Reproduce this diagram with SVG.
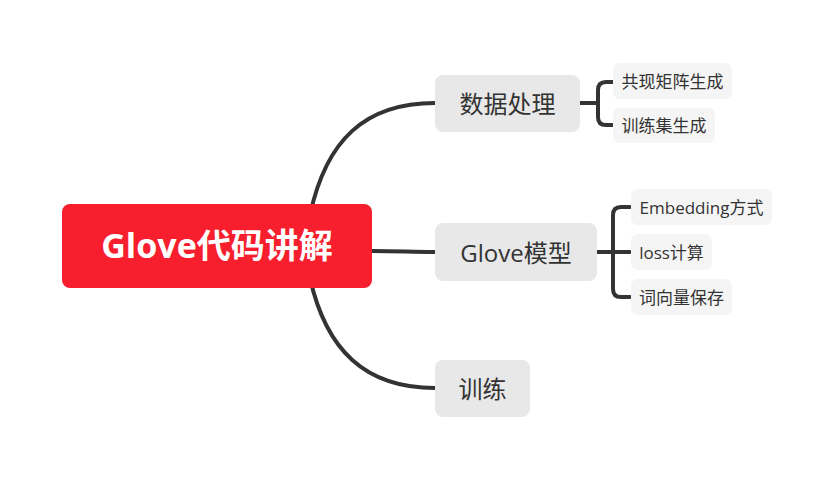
<svg xmlns="http://www.w3.org/2000/svg" width="835" height="480" viewBox="0 0 835 480">
<style>
.c{fill:none;stroke:#333;stroke-width:4;stroke-linecap:round}
.t{font-family:"Open Sans","Noto Sans CJK SC",sans-serif;text-anchor:middle;dominant-baseline:central}
.n rect{fill:#e8e8e8}
.n text{fill:#333;font-size:24px}
.l rect{fill:#f5f5f5}
.l text{fill:#333;font-size:17px}
</style>
<rect width="835" height="480" fill="#fff"/>
<g id="connectors">
<path class="c" d="M310,215 C326,140 365,103 435,103"/>
<path class="c" d="M372,251 C400,251 410,252 435,252"/>
<path class="c" d="M310,278 C326,350 365,388 435,388"/>
<path class="c" d="M580,103 H598"/>
<path class="c" d="M613,82 H606 Q598,82 598,90 V117 Q598,125 606,125 H613"/>
<path class="c" d="M597,252 H630"/>
<path class="c" d="M630,207 H621 Q613,207 613,215 V289 Q613,297 621,297 H630"/>
</g>
<g id="root">
<rect x="62" y="204" width="310" height="84" rx="8" fill="#f71f2e"/>
<text class="t" x="217" y="245" font-size="34" font-weight="bold" fill="#fff">Glove代码讲解</text>
</g>
<g id="n1" class="n">
<rect x="435" y="75" width="145" height="57" rx="8"/>
<text class="t" x="507.5" y="103.5">数据处理</text>
</g>
<g id="n2" class="n">
<rect x="435" y="223" width="162" height="58" rx="8"/>
<text class="t" x="516" y="252">Glove模型</text>
</g>
<g id="n3" class="n">
<rect x="435" y="360" width="95" height="57" rx="8"/>
<text class="t" x="482.5" y="388.5">训练</text>
</g>
<g id="l1" class="l">
<rect x="613" y="63" width="119" height="36" rx="7"/>
<text class="t" x="672.5" y="81">共现矩阵生成</text>
</g>
<g id="l2" class="l">
<rect x="613" y="108" width="102" height="35" rx="7"/>
<text class="t" x="664" y="125.5">训练集生成</text>
</g>
<g id="l3" class="l">
<rect x="631" y="189" width="141" height="36" rx="7"/>
<text class="t" x="701.5" y="207">Embedding方式</text>
</g>
<g id="l4" class="l">
<rect x="631" y="234" width="81" height="36" rx="7"/>
<text class="t" x="671.5" y="252">loss计算</text>
</g>
<g id="l5" class="l">
<rect x="631" y="279" width="101" height="36" rx="7"/>
<text class="t" x="681.5" y="297">词向量保存</text>
</g>
</svg>
